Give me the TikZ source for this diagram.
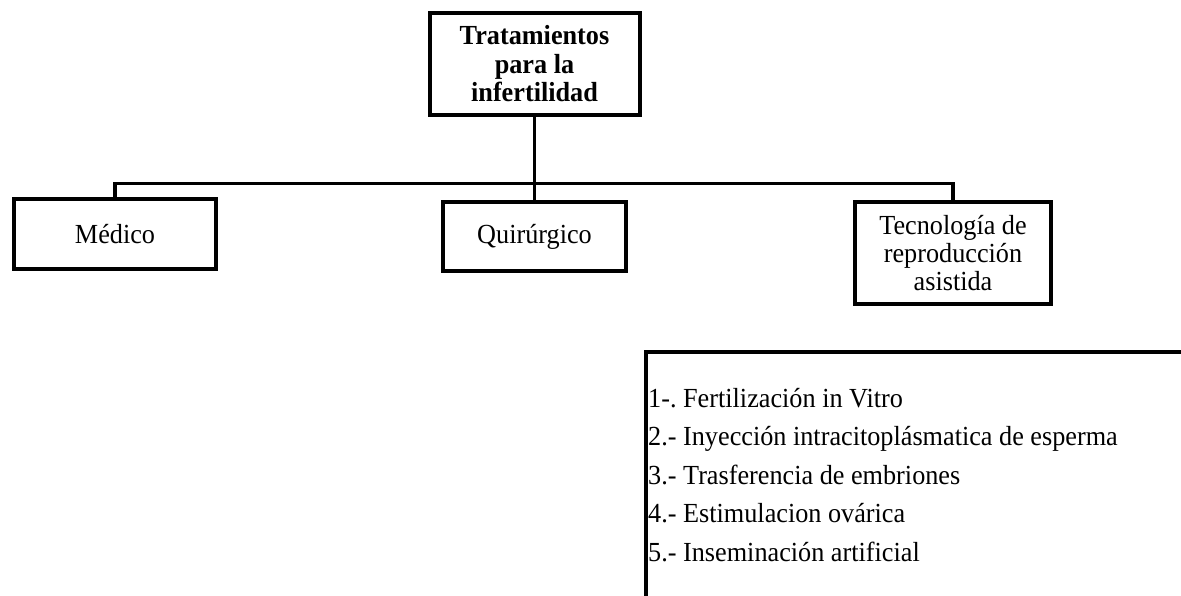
\documentclass[tikz,border=0pt]{standalone}
\usepackage{fontspec}
\setmainfont[FakeStretch=0.95]{Liberation Serif}
\frenchspacing
\begin{document}
\begin{tikzpicture}[x=1pt,y=-1pt,
  box/.style={draw=black,line width=4pt,rectangle,inner sep=0pt,align=center,
    font=\fontsize{27.6}{28}\selectfont},
  conn/.style={draw=black,line width=3.6pt}]
\useasboundingbox (0,0) rectangle (1181,596);
\fill[white] (0,0) rectangle (1181,596);
\node[box,minimum width=210pt,minimum height=102pt,font=\fontsize{27.6}{28.5}\selectfont\bfseries] (top) at (534.5,64) {Tratamientos\\para la\\infertilidad};
\node[box,minimum width=202pt,minimum height=70pt] (med) at (115,234) {Médico};
\node[box,minimum width=183pt,minimum height=69pt] (quir) at (534.5,236.5) {Quirúrgico};
\node[box,minimum width=196pt,minimum height=102pt] (tec) at (953,253) {Tecnología de\\reproducción\\asistida};
\coordinate (bus) at (0,183.5);
\draw[conn] (top.south) -- (quir.north);
\draw[conn,line join=miter] (med.north) -- (med.north |- bus) -- (tec.north |- bus) -- (tec.north);
\begin{scope}
\clip (0,0) rectangle (1181,596);
\draw[line width=4pt] (646,352) rectangle (1240,640);
\end{scope}
\node[anchor=north west,inner sep=0pt,align=left,font=\fontsize{27.6}{38.5}\selectfont] (list) at (648,388)
{1-. Fertilización in Vitro\\2.- Inyección intracitoplásmatica de esperma\\3.- Trasferencia de embriones\\4.- Estimulacion ovárica\\5.- Inseminación artificial};
\end{tikzpicture}
\end{document}
